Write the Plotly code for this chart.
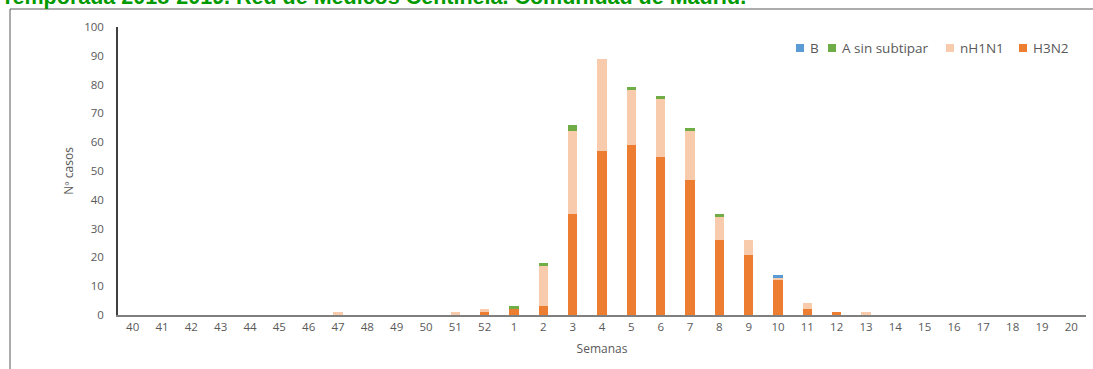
import plotly.graph_objects as go

# Epidemiological weeks of the 2018-2019 season
semanas = ["40", "41", "42", "43", "44", "45", "46", "47", "48", "49", "50", "51", "52",
           "1", "2", "3", "4", "5", "6", "7", "8", "9", "10", "11", "12", "13",
           "14", "15", "16", "17", "18", "19", "20"]

# Cases per week and virus type
h3n2 = [0, 0, 0, 0, 0, 0, 0, 0, 0, 0, 0, 0, 1,
        2, 3, 35, 57, 59, 55, 47, 26, 21, 12, 2, 1, 0,
        0, 0, 0, 0, 0, 0, 0]
nh1n1 = [0, 0, 0, 0, 0, 0, 0, 1, 0, 0, 0, 1, 1,
         0, 14, 29, 32, 19, 20, 17, 8, 5, 1, 2, 0, 1,
         0, 0, 0, 0, 0, 0, 0]
a_sin_subtipar = [0, 0, 0, 0, 0, 0, 0, 0, 0, 0, 0, 0, 0,
                  1, 1, 2, 0, 1, 1, 1, 1, 0, 0, 0, 0, 0,
                  0, 0, 0, 0, 0, 0, 0]
b = [0, 0, 0, 0, 0, 0, 0, 0, 0, 0, 0, 0, 0,
     0, 0, 0, 0, 0, 0, 0, 0, 0, 1, 0, 0, 0,
     0, 0, 0, 0, 0, 0, 0]

# Stacking order, bottom to top
series = [
    ("H3N2", h3n2, "#ED7D31"),
    ("nH1N1", nh1n1, "#F8CBAD"),
    ("A sin subtipar", a_sin_subtipar, "#70AD47"),
    ("B", b, "#5B9BD5"),
]

fig = go.Figure()
for name, vals, color in series:
    fig.add_trace(go.Bar(x=semanas, y=vals, name=name, showlegend=False,
                         marker=dict(color=color, line=dict(width=0))))

W, H = 1093, 369
ml, mr, mt, mb = 118, 7, 27, 54
pw, ph = W - ml - mr, H - mt - mb

def px_x(x):
    return (x - ml) / pw

def px_y(y):
    return (H - mb - y) / ph

grey = "#595959"
font_family = "Open Sans, Liberation Sans, Arial, sans-serif"

shapes = [
    # outer frame (left and top edges)
    dict(type="line", xref="paper", yref="paper", x0=px_x(10), x1=px_x(10),
         y0=px_y(9), y1=px_y(H + 5), line=dict(color="#595959", width=1)),
    dict(type="line", xref="paper", yref="paper", x0=px_x(10), x1=px_x(W + 5),
         y0=px_y(9), y1=px_y(9), line=dict(color="#595959", width=1)),
]
annotations = [
    dict(text="<b>Temporada 2018-2019. Red de Médicos Centinela. Comunidad de Madrid.</b>",
         xref="paper", yref="paper", x=px_x(-1), y=px_y(11), xanchor="left", yanchor="bottom",
         showarrow=False, font=dict(size=21.5, color="#009A00",
                                    family="Liberation Sans, Arial, sans-serif")),
]

# Horizontal legend drawn as swatches + labels, top-to-bottom stack order reversed
legend_x = [796, 828, 946, 1019]
legend_y = 48
for (name, _, color), lx in zip(reversed(series), legend_x):
    shapes.append(dict(type="rect", xref="paper", yref="paper",
                       x0=px_x(lx), x1=px_x(lx + 8), y0=px_y(legend_y - 4), y1=px_y(legend_y + 4),
                       fillcolor=color, line=dict(width=0)))
    annotations.append(dict(text=name, xref="paper", yref="paper", x=px_x(lx + 12),
                            y=px_y(legend_y), xanchor="left", yanchor="middle", showarrow=False,
                            font=dict(size=13.5, color=grey, family=font_family)))

fig.update_layout(
    width=W, height=H,
    margin=dict(l=ml, r=mr, t=mt, b=mb),
    paper_bgcolor="white", plot_bgcolor="white",
    barmode="stack", bargap=0.68,
    font=dict(family=font_family, size=11.5, color=grey),
    showlegend=False,
    xaxis=dict(type="category", showline=True, linecolor="#7F7F7F", linewidth=1.5,
               ticks="", showgrid=False, tickfont=dict(size=11.5, color=grey),
               title=dict(text="Semanas", font=dict(size=12, color=grey), standoff=12)),
    yaxis=dict(range=[0, 100], dtick=10, showline=True, linecolor="#404040", linewidth=1.5,
               ticks="", showgrid=False, zeroline=False, tickfont=dict(size=11.5, color=grey),
               ticklabelstandoff=10,
               title=dict(text="Nº casos", font=dict(size=12, color=grey), standoff=8)),
    shapes=shapes,
    annotations=annotations,
)

fig.write_html("out.html")
